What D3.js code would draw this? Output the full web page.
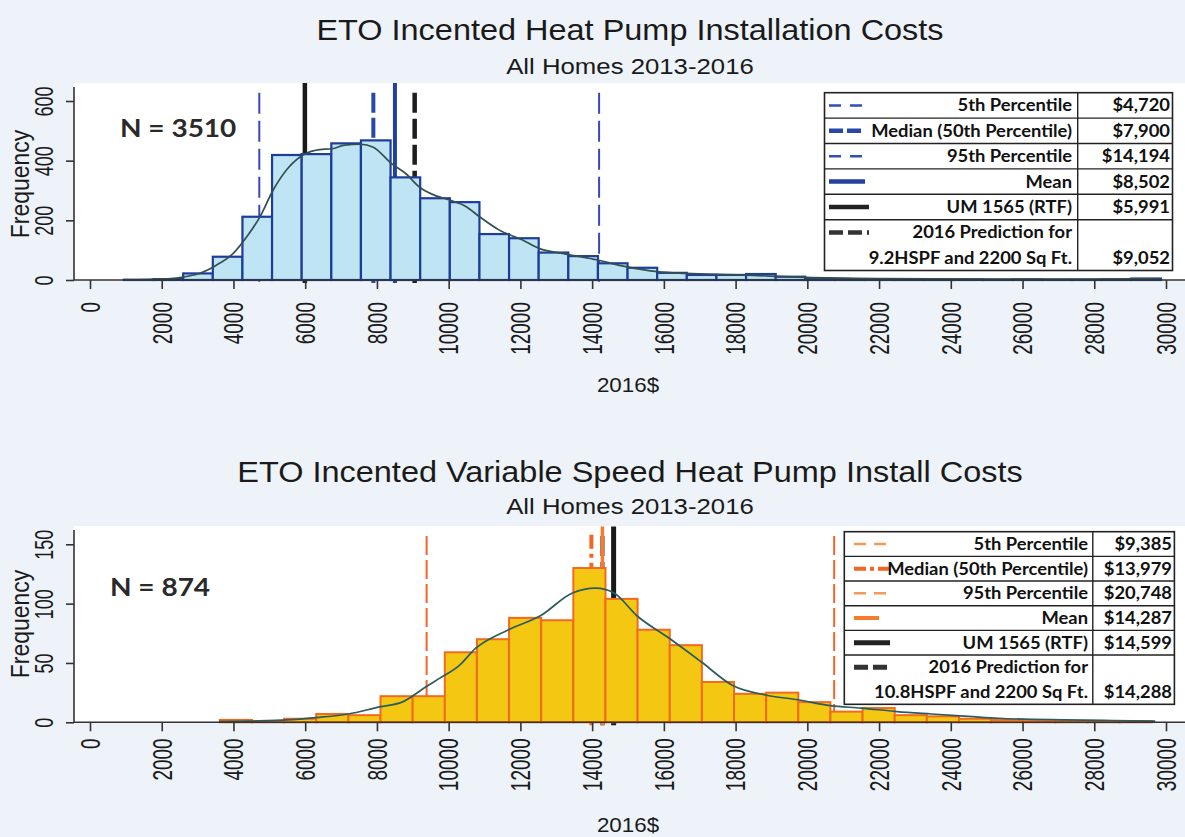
<!DOCTYPE html>
<html>
<head>
<meta charset="utf-8">
<script src="https://cdn.jsdelivr.net/npm/d3@7"></script>
<style>
  body { margin: 0; background: #edf3f8; }
  svg { display: block; }
</style>
</head>
<body>
<div id="chart"></div>
<script>
// ---- data ----

// chart 1: all heat pumps
var heatEdges = [946, 1772, 2598, 3424, 4250, 5076, 5902, 6728, 7554, 8380, 9206, 10032, 10858, 11684, 12510,
  13336, 14162, 14988, 15814, 16640, 17466, 18292, 19118, 19944, 20770, 21596, 22422, 23248, 24074,
  24900, 25726, 26552, 27378, 28204, 29030, 29856];
var heatCounts = [1, 3, 22, 78, 212, 419, 422, 458, 468, 344, 274, 261, 154, 140, 92, 80, 56, 41,
  24, 17, 17, 20, 11, 4, 3, 3, 2, 2, 2, 1, 2, 1, 1, 2, 5];
var heatDensX = [1000, 2000, 2600, 3000, 3500, 4000, 4400, 4730, 5100, 5500, 5940, 6400, 6750, 7100, 7550,
  7900, 8400, 8800, 9200, 9650, 10030, 10500, 10860, 11400, 12060, 12520, 13270, 14150, 14940, 15820,
  16600, 18100, 19950, 22000, 25000, 28000, 29500, 29900];
var heatDensY = [0, 3, 10, 20, 48, 90, 150, 210, 300, 372, 419, 437, 440, 452, 455, 445, 391, 357, 310,
  282, 268, 245, 212, 168, 134, 106, 87, 67, 45, 28, 22, 17, 9, 5, 3, 3, 4, 1];
var heatRefKeys = ["p5", "median", "p95", "mean", "rtf", "pred"];
var heatRefValues = [4720, 7900, 14194, 8502, 5991, 9052];
var heatLegendLabels = ["5th Percentile", "Median (50th Percentile)", "95th Percentile", "Mean",
  "UM 1565 (RTF)", "2016 Prediction for", "9.2HSPF and 2200 Sq Ft."];
var heatYTicks = [0, 200, 400, 600];

// chart 2: variable speed heat pumps
var varEdges = [3620, 4516, 5412, 6308, 7204, 8100, 8996, 9892, 10788, 11684, 12580, 13476, 14372, 15268,
  16164, 17060, 17956, 18852, 19748, 20644, 21540, 22436, 23332, 24228, 25124, 26020, 26916, 27812,
  28708, 29604];
var varCounts = [2, 1, 3, 7, 6, 22, 22, 59, 70, 88, 86, 130, 104, 78, 65, 34, 24, 25, 17, 9, 12, 6, 5,
  3, 2, 1, 1, 1, 1];
var varDensX = [3600, 4500, 5500, 6300, 7200, 8070, 8700, 9370, 9740, 10300, 10740, 11670, 12570, 13450,
  14100, 14610, 15240, 16140, 17040, 17920, 18830, 19740, 20640, 21500, 22500, 23460, 24500, 25330,
  27180, 28500, 29700];
var varDensY = [0.5, 1, 2, 4, 7, 13, 17, 30, 37, 48, 62, 78, 90, 109, 113, 109, 90, 71, 51, 31, 23, 19,
  14, 12, 9, 7, 5, 3.4, 2, 1.5, 1];
var varRefKeys = ["p5", "median", "p95", "mean", "rtf", "pred"];
var varRefValues = [9385, 13979, 20748, 14287, 14599, 14288];
var varLegendLabels = ["5th Percentile", "Median (50th Percentile)", "95th Percentile", "Mean",
  "UM 1565 (RTF)", "2016 Prediction for", "10.8HSPF and 2200 Sq Ft."];
var varYTicks = [0, 50, 100, 150];

var xTicks = d3.range(0, 30001, 2000);

// ---- drawing ----
var SX = 1.12; // the scanned page is a little stretched sideways
var W = 1185, H = 837;
var money = function(v) { return "$" + d3.format(",")(v); };

var svg = d3.select("#chart").append("svg")
  .attr("width", W)
  .attr("height", H);

svg.append("rect")
  .attr("width", W)
  .attr("height", H)
  .attr("fill", "#edf3f8");

function label(g, x, y, str, o) {
  var t = "translate(" + x + "," + y + ") scale(" + (o.sx || SX) + ",1)" + (o.rotate ? " rotate(-90)" : "");
  return g.append("text")
    .attr("transform", t)
    .attr("text-anchor", o.anchor || "middle")
    .attr("dominant-baseline", o.baseline || "auto")
    .attr("font-family", o.family || "'Liberation Sans', Arial, sans-serif")
    .attr("font-weight", o.weight || "normal")
    .attr("font-size", o.size)
    .attr("fill", o.fill || "#1a1a1a")
    .text(str);
}

function drawPanel(p) {
  var g = svg.append("g");

  var x = d3.scaleLinear().domain([0, 30000]).range([90, 1166]);
  var y = d3.scaleLinear().domain([0, p.yMax]).range([p.base, p.yMaxPx]);

  // white plot region
  g.append("rect")
    .attr("x", 74).attr("y", p.plotTop)
    .attr("width", W - 74).attr("height", p.base - p.plotTop)
    .attr("fill", "#ffffff");

  // titles
  label(g, 630, p.titleY, p.title, { size: 29 });
  label(g, 630, p.subY, "All Homes 2013-2016", { size: 23 });

  // reference lines, under the bars
  var order = ["pred", "rtf", "p5", "p95", "median", "mean"];
  order.forEach(function(k) {
    var v = p.refValues[p.refKeys.indexOf(k)];
    var st = p.refStyle[k];
    g.append("line")
      .attr("x1", x(v)).attr("x2", x(v))
      .attr("y1", y(st.top)).attr("y2", p.base + 3)
      .attr("stroke", st.color)
      .attr("stroke-width", st.width)
      .attr("stroke-dasharray", st.dash || null);
  });

  // histogram bars
  var bins = p.counts.map(function(c, i) { return { x0: p.edges[i], x1: p.edges[i + 1], n: c }; });
  g.selectAll(".bar")
    .data(bins)
    .enter().append("rect")
    .attr("class", "bar")
    .attr("x", function(d) { return x(d.x0); })
    .attr("y", function(d) { return y(d.n); })
    .attr("width", function(d) { return x(d.x1) - x(d.x0); })
    .attr("height", function(d) { return p.base - y(d.n); })
    .attr("fill", p.barFill)
    .attr("stroke", p.barStroke)
    .attr("stroke-width", p.barStrokeWidth);

  // density curve
  var pts = p.densX.map(function(d, i) { return [d, p.densY[i]]; });
  g.append("path")
    .datum(pts)
    .attr("fill", "none")
    .attr("stroke", p.densColor)
    .attr("stroke-width", 1.7)
    .attr("d", d3.line()
      .x(function(d) { return x(d[0]); })
      .y(function(d) { return y(d[1]); })
      .curve(d3.curveMonotoneX));

  // axes
  g.append("line")
    .attr("x1", 74).attr("x2", W)
    .attr("y1", p.base).attr("y2", p.base)
    .attr("stroke", "#333").attr("stroke-width", 1.6);
  g.append("line")
    .attr("x1", 74).attr("x2", 74)
    .attr("y1", p.plotTop + 4).attr("y2", p.base)
    .attr("stroke", "#333").attr("stroke-width", 1.6);

  var xAxis = g.append("g")
    .attr("transform", "translate(0," + p.base + ")")
    .call(d3.axisBottom(x).tickValues(xTicks).tickSize(9).tickFormat(d3.format("d")));
  xAxis.select(".domain").remove();
  xAxis.selectAll("line").attr("stroke", "#333").attr("stroke-width", 1.6);
  xAxis.selectAll("text")
    .attr("x", null).attr("y", null).attr("dy", null)
    .attr("transform", "translate(0," + p.xLabelOff + ") scale(1.45,1) rotate(-90)")
    .attr("text-anchor", "end")
    .attr("dominant-baseline", "central")
    .attr("font-family", "'Liberation Sans', Arial, sans-serif")
    .attr("font-size", 19)
    .attr("fill", "#1a1a1a");

  var yAxis = g.append("g")
    .attr("transform", "translate(74,0)")
    .call(d3.axisLeft(y).tickValues(p.yTicks).tickSize(8));
  yAxis.select(".domain").remove();
  yAxis.selectAll("line").attr("stroke", "#333").attr("stroke-width", 1.6);
  yAxis.selectAll("text")
    .attr("x", null).attr("dy", null)
    .attr("transform", "translate(-30,0) scale(1.4,1) rotate(-90)")
    .attr("text-anchor", "middle")
    .attr("dominant-baseline", "central")
    .attr("font-family", "'Liberation Sans', Arial, sans-serif")
    .attr("font-size", 18)
    .attr("fill", "#1a1a1a");

  label(g, 20, p.freqY, "Frequency", { size: 23, rotate: true, baseline: "central" });
  label(g, 628, p.xTitleY, "2016$", { size: 20 });

  // N label
  label(g, p.nX, p.nY, p.nText, { size: 25, anchor: "start", weight: "bold",
    family: "Lato, 'Open Sans', sans-serif", fill: "#2a2a2a" });

  // legend table
  var L = p.legend;
  var lg = g.append("g");
  var rowTop = function(i) { return L.top + i * L.row; };
  lg.append("rect")
    .attr("x", L.left).attr("y", L.top)
    .attr("width", L.right - L.left).attr("height", L.row * 7)
    .attr("fill", "#ffffff").attr("stroke", "#222").attr("stroke-width", 1.6);
  d3.range(1, 6).forEach(function(i) {
    lg.append("line")
      .attr("x1", L.left).attr("x2", L.right)
      .attr("y1", rowTop(i)).attr("y2", rowTop(i))
      .attr("stroke", "#222").attr("stroke-width", 1.4);
  });
  lg.append("line")
    .attr("x1", L.divider).attr("x2", L.divider)
    .attr("y1", L.top).attr("y2", L.top + L.row * 7)
    .attr("stroke", "#222").attr("stroke-width", 1.4);

  var lfont = { size: 17, sx: 1.08, anchor: "end", weight: "bold", family: "Lato, 'Open Sans', sans-serif", fill: "#111" };
  p.refKeys.forEach(function(k, i) {
    var cy = rowTop(i) + L.row / 2;
    var st = p.legendStyle[k];
    lg.append("line")
      .attr("x1", L.symX).attr("x2", L.symX + st.len)
      .attr("y1", cy).attr("y2", cy)
      .attr("stroke", st.color)
      .attr("stroke-width", st.width)
      .attr("stroke-dasharray", st.dash || null);
    label(lg, L.textRight, cy + 6, p.legendLabels[i], lfont);
    var vy = cy + 6;
    if (i === 5) {
      label(lg, L.textRight, cy + L.row + 6, p.legendLabels[6], lfont);
      vy = cy + L.row + 6;
    }
    label(lg, L.valueRight, vy, money(p.refValues[i]), lfont);
  });
}

drawPanel({
  title: "ETO Incented Heat Pump Installation Costs",
  titleY: 39.5, subY: 74,
  base: 280, plotTop: 83, yMax: 600, yMaxPx: 101, yTicks: heatYTicks,
  xLabelOff: 22, freqY: 184, xTitleY: 392,
  edges: heatEdges, counts: heatCounts, densX: heatDensX, densY: heatDensY,
  barFill: "#bfe4f4", barStroke: "#1c3d9c", barStrokeWidth: 2.2, densColor: "#33504f",
  refKeys: heatRefKeys, refValues: heatRefValues,
  refStyle: {
    p5: { color: "#3c46bd", width: 2, dash: "21,7", top: 628 },
    p95: { color: "#3c46bd", width: 2, dash: "21,7", top: 628 },
    median: { color: "#2748a8", width: 4, dash: "20,5", top: 628 },
    mean: { color: "#23409e", width: 4, top: 660 },
    rtf: { color: "#1a1a1a", width: 4.5, top: 660 },
    pred: { color: "#1e1e1e", width: 4.5, dash: "20,6", top: 628 }
  },
  legendStyle: {
    p5: { color: "#2f4fb5", width: 2.5, dash: "12,9", len: 40 },
    median: { color: "#2748a8", width: 4.5, dash: "14,4", len: 35 },
    p95: { color: "#2f4fb5", width: 2.5, dash: "12,9", len: 40 },
    mean: { color: "#23409e", width: 4.5, len: 36 },
    rtf: { color: "#222", width: 4.5, len: 40 },
    pred: { color: "#333", width: 4.5, dash: "14,5", len: 40 }
  },
  legendLabels: heatLegendLabels,
  legend: { left: 824.5, right: 1172.5, divider: 1077.7, top: 92.7, row: 25.4,
    symX: 829, textRight: 1072, valueRight: 1170 },
  nText: "N = 3510", nX: 120, nY: 137
});

drawPanel({
  title: "ETO Incented Variable Speed Heat Pump Install Costs",
  titleY: 481.5, subY: 514,
  base: 722.3, plotTop: 526, yMax: 150, yMaxPx: 544.3, yTicks: varYTicks,
  xLabelOff: 16, freqY: 624, xTitleY: 832,
  edges: varEdges, counts: varCounts, densX: varDensX, densY: varDensY,
  barFill: "#f4c812", barStroke: "#f26a1f", barStrokeWidth: 2, densColor: "#2b5c5e",
  refKeys: varRefKeys, refValues: varRefValues,
  refStyle: {
    p5: { color: "#f2662b", width: 2, dash: "19,5", top: 157 },
    p95: { color: "#f2662b", width: 2, dash: "19,5", top: 157 },
    median: { color: "#f26522", width: 4, dash: "14,5,4,5", top: 158 },
    mean: { color: "#f47c2c", width: 3.5, top: 165 },
    rtf: { color: "#1a1a1a", width: 5, top: 165 },
    pred: { color: "#222", width: 4, dash: "20,6", top: 157 }
  },
  legendStyle: {
    p5: { color: "#f39a5b", width: 2.5, dash: "12,8", len: 36 },
    median: { color: "#f26522", width: 4, dash: "12,4,4,4", len: 36 },
    p95: { color: "#f39a5b", width: 2.5, dash: "12,8", len: 36 },
    mean: { color: "#f47c2c", width: 4, len: 25 },
    rtf: { color: "#222", width: 5, len: 36 },
    pred: { color: "#333", width: 5, dash: "14,5", len: 36 }
  },
  legendLabels: varLegendLabels,
  legend: { left: 844.3, right: 1174.4, divider: 1092.8, top: 531.7, row: 24.66,
    symX: 854, textRight: 1088, valueRight: 1172 },
  nText: "N = 874", nX: 110, nY: 596
});
</script>
</body>
</html>
